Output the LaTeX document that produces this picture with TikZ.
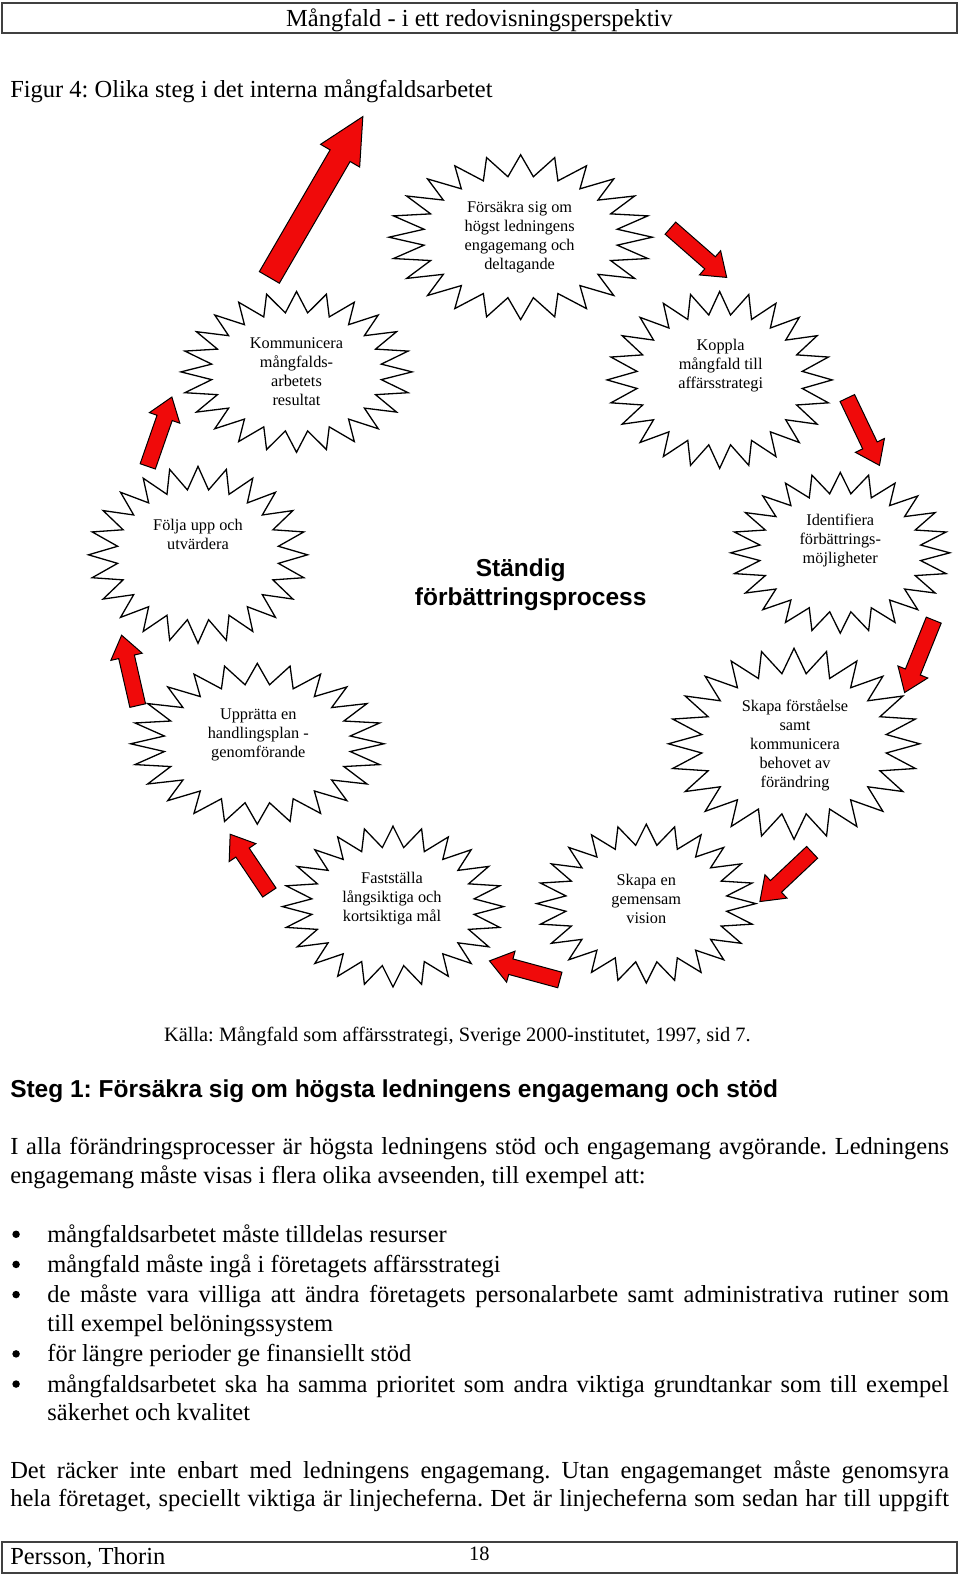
\documentclass[tikz,border=0pt]{standalone}
\usepackage{fontspec}
\setmainfont{Liberation Serif}
\newfontfamily\arialfont{Liberation Sans}
\definecolor{arrred}{RGB}{240,10,10}
\frenchspacing
\newcommand\burst[4]{%
  \draw[starline] plot[samples at={0,7.5,...,352.5}, variable=\bt]
   ({#1+#3*(1-0.26*mod(round(\bt/7.5),2))*cos(\bt)},{#2+#4*(1-0.26*mod(round(\bt/7.5),2))*sin(\bt)}) -- cycle;}
\newcommand\blockarrow[7]{%
  \pgfmathsetmacro\baang{atan2(-(#4-#2),#3-#1)}%
  \pgfmathsetmacro\balen{veclen(#3-#1,#4-#2)}%
  \pgfmathsetmacro\babase{\balen-#7}%
  \draw[redarr, shift={(#1,#2)}, rotate=\baang]
    (0,{#5/2}) -- (\babase,{#5/2}) -- (\babase,{#6/2}) -- (\balen,0) --
    (\babase,{-#6/2}) -- (\babase,{-#5/2}) -- (0,{-#5/2}) -- cycle;}
\begin{document}
\begin{tikzpicture}[x=1.0052pt, y=-1.0052pt,
  starline/.style={draw=black, line width=1.3pt, fill=white, line join=miter},
  stxt/.style={font=\fontsize{16.3}{19}\selectfont, align=center, inner sep=0pt},
  body/.style={font=\fontsize{24.5}{29}\selectfont, inner sep=0pt, anchor=base west},
  small/.style={font=\fontsize{20.4}{24}\selectfont, inner sep=0pt, anchor=base},
  dotmark/.style={circle, fill=black, inner sep=0pt, minimum size=7.5pt},
  redarr/.style={draw=black, fill=arrred, line width=1pt, line join=miter},
  pagebox/.style={draw=black!75, line width=1.5pt}]
\useasboundingbox (0,0) rectangle (955,1569);
% header
\draw[pagebox] (2,3) rectangle (952,33);
\node[body, anchor=base] (head) at (477,26) {Mångfald - i ett redovisningsperspektiv};
\node[body] (fig) at (10,97) {Figur 4: Olika steg i det interna mångfaldsarbetet};
% stars
\burst{518}{236}{131}{82}
\burst{716}{378}{112}{88}
\burst{836}{550}{109}{80}
\burst{790}{740}{125}{95}
\burst{643}{899}{109}{79}
\burst{391}{902}{110}{80}
\burst{256}{740}{126}{80}
\burst{197}{552}{109}{88}
\burst{295}{370}{115}{80}
\node[stxt] (s1) at (517,236) {Försäkra sig om\\högst ledningens\\engagemang och\\deltagande};
\node[stxt] (s2) at (717,364) {Koppla\\mångfald till\\affärsstrategi};
\node[stxt] (s3) at (836,538) {Identifiera\\förbättrings-\\möjligheter};
\node[stxt] (s4) at (791,742) {Skapa förståelse\\samt\\kommunicera\\behovet av\\förändring};
\node[stxt] (s5) at (643,894) {Skapa en\\gemensam\\vision};
\node[stxt] (s6) at (390,894) {Fastställa\\långsiktiga och\\kortsiktiga mål};
\node[stxt] (s7) at (257,731) {Upprätta en\\handlingsplan -\\genomförande};
\node[stxt] (s8) at (197,532) {Följa upp och\\utvärdera};
\node[stxt] (s9) at (295,370) {Kommunicera\\mångfalds-\\arbetets\\resultat};
\node[font=\arialfont\bfseries\fontsize{24.5}{29}\selectfont, align=center, inner sep=0pt] (title) at (528,582) {Ständig\hspace*{20pt}\\förbättringsprocess};
% arrows
\blockarrow{268}{276}{361}{116}{23}{45}{45}
\blockarrow{667}{227}{723}{276}{16}{32}{22}
\blockarrow{843}{396}{875}{463}{16}{32}{22}
\blockarrow{929}{617}{900}{689}{16}{32}{22}
\blockarrow{808}{848}{756}{897}{16}{32}{22}
\blockarrow{557}{975}{487}{956}{16}{32}{22}
\blockarrow{268}{888}{229}{830}{16}{32}{22}
\blockarrow{137}{702}{121}{632}{16}{32}{22}
\blockarrow{147}{464}{171}{395}{16}{32}{22}
% text below
\node[small] (src) at (455,1036) {Källa: Mångfald som affärsstrategi, Sverige 2000-institutet, 1997, sid 7.};
\node[body, font=\arialfont\bfseries\fontsize{24.5}{29}\selectfont] (steg) at (10,1092) {Steg 1: Försäkra sig om högsta ledningens engagemang och stöd};
\node[body] (p1a) at (10,1149) {\makebox[938.9pt][s]{I alla förändringsprocesser är högsta ledningens stöd och engagemang avgörande. Ledningens}};
\node[body] (p1b) at (10,1177) {engagemang måste visas i flera olika avseenden, till exempel att:};
\foreach \yy [count=\i] in {1236,1266,1296,1355,1385}
  \node[dotmark] (dot\i) at (16,\yy-8) {};
\node[body] (b1) at (47,1236) {mångfaldsarbetet måste tilldelas resurser};
\node[body] (b2) at (47,1266) {mångfald måste ingå i företagets affärsstrategi};
\node[body] (b3a) at (47,1296) {\makebox[901.7pt][s]{de måste vara villiga att ändra företagets personalarbete samt administrativa rutiner som}};
\node[body] (b3b) at (47,1325) {till exempel belöningssystem};
\node[body] (b4) at (47,1355) {för längre perioder ge finansiellt stöd};
\node[body] (b5a) at (47,1385) {\makebox[901.7pt][s]{mångfaldsarbetet ska ha samma prioritet som andra viktiga grundtankar som till exempel}};
\node[body] (b5b) at (47,1413) {säkerhet och kvalitet};
\node[body] (p2a) at (10,1471) {\makebox[938.9pt][s]{Det räcker inte enbart med ledningens engagemang. Utan engagemanget måste genomsyra}};
\node[body] (p2b) at (10,1499) {\makebox[938.9pt][s]{hela företaget, speciellt viktiga är linjecheferna. Det är linjecheferna som sedan har till uppgift}};
% footer
\draw[pagebox] (2,1534) rectangle (952,1565);
\node[body] (author) at (10,1557) {Persson, Thorin};
\node[small] (page) at (477,1553) {18};
\end{tikzpicture}
\end{document}
